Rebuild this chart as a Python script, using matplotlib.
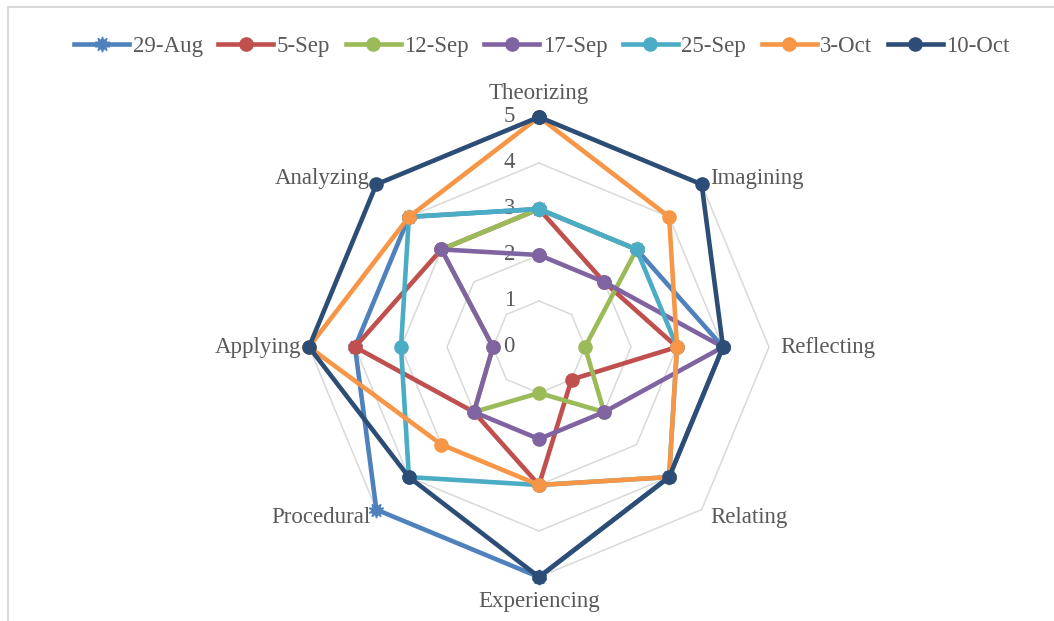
import numpy as np
import matplotlib
matplotlib.use("Agg")
import matplotlib.pyplot as plt
from matplotlib.patches import Rectangle
from matplotlib.lines import Line2D

categories = ["Theorizing", "Imagining", "Reflecting", "Relating",
              "Experiencing", "Procedural", "Applying", "Analyzing"]
series_names = ["29-Aug", "5-Sep", "12-Sep", "17-Sep", "25-Sep", "3-Oct", "10-Oct"]
aug29 = [3, 3, 4, 4, 5, 5, 4, 4]
sep05 = [3, 2, 3, 1, 3, 2, 4, 3]
sep12 = [3, 3, 1, 2, 1, 2, 1, 3]
sep17 = [2, 2, 4, 2, 2, 2, 1, 3]
sep25 = [3, 3, 3, 4, 3, 4, 3, 4]
oct03 = [5, 4, 3, 4, 3, 3, 5, 4]
oct10 = [5, 5, 4, 4, 5, 4, 5, 5]
series_values = [aug29, sep05, sep12, sep17, sep25, oct03, oct10]
tick_values = [0, 1, 2, 3, 4, 5]

colors = ["#4F81BD", "#C0504D", "#9BBB59", "#8064A2", "#4BACC6", "#F79646", "#2C4D75"]
markers = [(10, 1, 0), "o", "o", "o", "o", "o", "o"]
text_color = "#595959"
grid_color = "#D9D9D9"
font = "Liberation Serif"
fs = 16.5

W, H = 1054, 621
fig = plt.figure(figsize=(W / 100, H / 100), dpi=100)
fig.patch.set_facecolor("white")

cx, cy, R = 539, 347, 230
ax = fig.add_axes([(cx - R) / W, (H - cy - R) / H, 2 * R / W, 2 * R / H], projection="polar")
ax.set_theta_zero_location("N")
ax.set_theta_direction(-1)
ax.set_ylim(0, 5)
ax.grid(False)
ax.set_xticks([])
ax.set_yticks([])
ax.spines["polar"].set_visible(False)
ax.patch.set_alpha(0)

n = len(categories)
angles = np.arange(n) * 2 * np.pi / n
closed = np.append(angles, angles[0])

# grid rings
for r in tick_values[1:]:
    ax.plot(closed, [r] * (n + 1), color=grid_color, lw=1.1, zorder=1, clip_on=False)

# series
for name, vals, col, mk in zip(series_names, series_values, colors, markers):
    v = np.append(vals, vals[0])
    ms = 11 if mk != "o" else 9.5
    ax.plot(closed, v, color=col, lw=3.3, marker=mk, markersize=ms,
            markerfacecolor=col, markeredgecolor=col, zorder=3, label=name,
            solid_joinstyle="round", clip_on=False)

# radial tick labels
for r in tick_values:
    ax.annotate(str(r), xy=(0, r), xytext=(-24, 0), textcoords="offset pixels",
                ha="right", va="center", fontsize=fs, family=font, color=text_color,
                zorder=2, annotation_clip=False)

# category labels
offsets = {
    "Theorizing": (0, 24, "center", "center"),
    "Imagining": (9, 6, "left", "center"),
    "Reflecting": (11, 0, "left", "center"),
    "Relating": (9, -8, "left", "center"),
    "Experiencing": (0, -24, "center", "center"),
    "Procedural": (-6, -8, "right", "center"),
    "Applying": (-8, 0, "right", "center"),
    "Analyzing": (-7, 6, "right", "center"),
}
for ang, cat in zip(angles, categories):
    dx, dy, ha, va = offsets[cat]
    ax.annotate(cat, xy=(ang, 5), xytext=(dx, dy), textcoords="offset pixels",
                ha=ha, va=va, fontsize=fs, family=font, color=text_color,
                annotation_clip=False, zorder=4)

# legend
handles = [Line2D([0], [0], color=c, lw=3.3, marker=m, markersize=(11 if m != "o" else 9.5))
           for c, m in zip(colors, markers)]
leg = fig.legend(handles, series_names, loc="center", bbox_to_anchor=(542 / W, 1 - 46 / H),
                 ncol=7, frameon=False, handlelength=2.4, handletextpad=0.15,
                 columnspacing=0.68, prop={"family": font, "size": fs})
for t in leg.get_texts():
    t.set_color(text_color)

# chart frame (partially visible)
fig.patches.append(Rectangle((8 / W, -0.1), 1.2, 1 - 7 / H + 0.1, transform=fig.transFigure,
                             fill=False, edgecolor=grid_color, lw=1.5))

fig.savefig("out.png", dpi=100, facecolor="white")
